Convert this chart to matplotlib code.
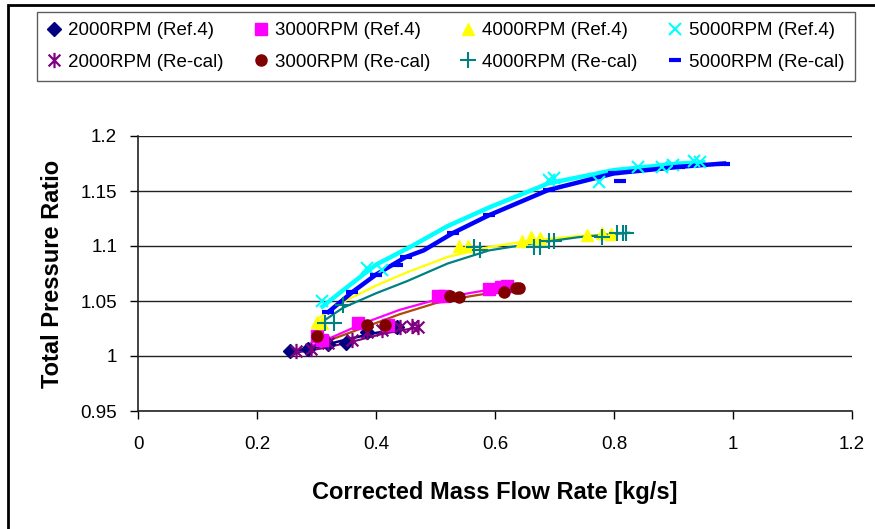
import matplotlib
matplotlib.use("Agg")
import matplotlib.pyplot as plt
from matplotlib.path import Path
from matplotlib.patches import Rectangle

plt.rcParams['font.family'] = ['Liberation Sans', 'DejaVu Sans']

# ---- data ----
r2000_x = [0.255, 0.285, 0.32, 0.35, 0.385, 0.435]
r2000_y = [1.005, 1.006, 1.011, 1.012, 1.022, 1.026]
c2000_x = [0.265, 0.29, 0.32, 0.36, 0.385, 0.41, 0.44, 0.46, 0.47]
c2000_y = [1.005, 1.006, 1.012, 1.015, 1.022, 1.024, 1.026, 1.027, 1.026]

r3000_x = [0.30, 0.31, 0.37, 0.42, 0.505, 0.515, 0.59, 0.61, 0.62]
r3000_y = [1.018, 1.015, 1.030, 1.028, 1.055, 1.055, 1.061, 1.063, 1.064]
c3000_x = [0.30, 0.385, 0.415, 0.525, 0.54, 0.615, 0.635, 0.64]
c3000_y = [1.018, 1.028, 1.028, 1.055, 1.054, 1.058, 1.062, 1.062]

r4000_x = [0.30, 0.31, 0.54, 0.555, 0.645, 0.66, 0.675, 0.755, 0.78, 0.795]
r4000_y = [1.031, 1.030, 1.100, 1.100, 1.105, 1.108, 1.107, 1.110, 1.112, 1.111]
c4000_x = [0.315, 0.33, 0.345, 0.565, 0.575, 0.665, 0.675, 0.69, 0.70, 0.78, 0.805, 0.815, 0.82]
c4000_y = [1.030, 1.030, 1.046, 1.099, 1.096, 1.099, 1.099, 1.105, 1.105, 1.108, 1.112, 1.112, 1.112]

r5000_x = [0.31, 0.385, 0.41, 0.69, 0.70, 0.775, 0.84, 0.88, 0.90, 0.935, 0.945]
r5000_y = [1.050, 1.080, 1.078, 1.160, 1.162, 1.158, 1.172, 1.172, 1.174, 1.177, 1.176]
c5000_x = [0.32, 0.36, 0.40, 0.435, 0.45, 0.53, 0.59, 0.69, 0.80, 0.81, 0.91, 0.985]
c5000_y = [1.040, 1.058, 1.074, 1.083, 1.090, 1.112, 1.128, 1.151, 1.166, 1.159, 1.172, 1.175]

# trend curves
t2000r_x = [0.255, 0.30, 0.35, 0.40, 0.44]
t2000r_y = [1.004, 1.008, 1.015, 1.021, 1.025]
t2000c_x = [0.265, 0.31, 0.36, 0.41, 0.46, 0.47]
t2000c_y = [1.003, 1.007, 1.013, 1.020, 1.025, 1.026]
t3000r_x = [0.295, 0.33, 0.38, 0.44, 0.50, 0.555, 0.61, 0.625]
t3000r_y = [1.010, 1.018, 1.030, 1.042, 1.051, 1.057, 1.062, 1.064]
t3000c_x = [0.30, 0.34, 0.39, 0.44, 0.50, 0.555, 0.60, 0.64]
t3000c_y = [1.010, 1.018, 1.028, 1.038, 1.048, 1.054, 1.058, 1.061]
t4000r_x = [0.305, 0.34, 0.40, 0.452, 0.52, 0.59, 0.66, 0.74, 0.80]
t4000r_y = [1.035, 1.048, 1.064, 1.076, 1.090, 1.099, 1.105, 1.109, 1.111]
t4000c_x = [0.315, 0.345, 0.40, 0.452, 0.52, 0.59, 0.66, 0.74, 0.825]
t4000c_y = [1.033, 1.044, 1.057, 1.068, 1.084, 1.096, 1.102, 1.108, 1.112]
t5000r_x = [0.31, 0.35, 0.40, 0.457, 0.52, 0.59, 0.69, 0.80, 0.91, 0.95]
t5000r_y = [1.045, 1.062, 1.083, 1.099, 1.118, 1.135, 1.157, 1.169, 1.175, 1.176]
t5000c_x = [0.32, 0.36, 0.40, 0.45, 0.48, 0.53, 0.59, 0.69, 0.80, 0.91, 0.985]
t5000c_y = [1.040, 1.058, 1.074, 1.090, 1.096, 1.112, 1.128, 1.151, 1.166, 1.172, 1.175]

x_ticks = [0, 0.2, 0.4, 0.6, 0.8, 1, 1.2]
x_ticklabels = ['0', '0.2', '0.4', '0.6', '0.8', '1', '1.2']
y_ticks = [0.95, 1.0, 1.05, 1.1, 1.15, 1.2]
y_ticklabels = ['0.95', '1', '1.05', '1.1', '1.15', '1.2']

W, H = 875, 529
fig = plt.figure(figsize=(W / 100, H / 100), dpi=100)
ax = fig.add_axes([138 / W, 1 - 411 / H, (852 - 138) / W, (411 - 136) / H])

# asterisk marker (x with vertical bar)
star = Path([(-1, -1), (1, 1), (-1, 1), (1, -1), (0, -1.3), (0, 1.3)],
            [Path.MOVETO, Path.LINETO, Path.MOVETO, Path.LINETO, Path.MOVETO, Path.LINETO])

# lines
ax.plot(t2000r_x, t2000r_y, color='#000080', lw=1.8, zorder=3)
ax.plot(t2000c_x, t2000c_y, color='#800080', lw=1.5, zorder=3)
ax.plot(t3000r_x, t3000r_y, color='#FF00FF', lw=1.6, zorder=3)
ax.plot(t3000c_x, t3000c_y, color='#B0480A', lw=1.6, zorder=3)
ax.plot(t4000r_x, t4000r_y, color='#FFFF00', lw=1.6, zorder=3)
ax.plot(t4000c_x, t4000c_y, color='#008080', lw=1.6, zorder=3)
ax.plot(t5000r_x, t5000r_y, color='#00FFFF', lw=3.2, zorder=3)
ax.plot(t5000c_x, t5000c_y, color='#0000FF', lw=3.2, zorder=3)

# markers
ax.plot(r2000_x, r2000_y, ls='none', marker='D', ms=7, color='#000080', label='2000RPM (Ref.4)', zorder=4)
ax.plot(c2000_x, c2000_y, ls='none', marker=star, ms=11, mew=1.6, mfc='none', color='#800080', label='2000RPM (Re-cal)', zorder=4)
ax.plot(r3000_x, r3000_y, ls='none', marker='s', ms=8, color='#FF00FF', label='3000RPM (Ref.4)', zorder=4)
ax.plot(c3000_x, c3000_y, ls='none', marker='o', ms=8, color='#800000', label='3000RPM (Re-cal)', zorder=4)
ax.plot(r4000_x, r4000_y, ls='none', marker='^', ms=9, color='#FFFF00', label='4000RPM (Ref.4)', zorder=4)
ax.plot(c4000_x, c4000_y, ls='none', marker='+', ms=11, mew=1.5, color='#008080', label='4000RPM (Re-cal)', zorder=4)
ax.plot(r5000_x, r5000_y, ls='none', marker='x', ms=9, mew=1.5, color='#00FFFF', label='5000RPM (Ref.4)', zorder=4)
ax.plot(c5000_x, c5000_y, ls='none', marker='_', ms=8, mew=3, color='#0000FF', label='5000RPM (Re-cal)', zorder=4)

ax.set_xlim(0, 1.2)
ax.set_ylim(0.95, 1.2)
ax.set_xticks(x_ticks)
ax.set_xticklabels(x_ticklabels)
ax.set_yticks(y_ticks)
ax.set_yticklabels(y_ticklabels)
ax.tick_params(direction='out', length=6, width=1, labelsize=13.5, color='black')
ax.tick_params(axis='x', pad=12)
ax.tick_params(axis='y', pad=9)
ax.grid(axis='y', color='#222222', lw=1)
ax.set_axisbelow(True)
for s in ['top', 'right']:
    ax.spines[s].set_visible(False)
for s in ['left', 'bottom']:
    ax.spines[s].set_color('#222222')
    ax.spines[s].set_linewidth(1.2)

ax.set_xlabel('Corrected Mass Flow Rate [kg/s]', fontsize=17, fontweight='bold', labelpad=20)
ax.set_ylabel('Total Pressure Ratio', fontsize=17, fontweight='bold', labelpad=12)

handles, labels = ax.get_legend_handles_labels()
leg = fig.legend(handles, labels, ncol=4, loc='upper left',
                 bbox_to_anchor=(37 / W, 1 - 90 / H, (855 - 37) / W, (90 - 12) / H),
                 mode='expand', fontsize=13.5, frameon=True, fancybox=False,
                 handlelength=0.7, handletextpad=0.4, columnspacing=0.6,
                 borderpad=0.55, labelspacing=0.75, borderaxespad=0)
leg.get_frame().set_edgecolor('#333333')
leg.get_frame().set_linewidth(1)

fig.patches.append(Rectangle((8 / W, -0.1), 1.2, 1 - 5 / H + 0.1, transform=fig.transFigure,
                             fill=False, edgecolor='black', lw=2, clip_on=False))

fig.savefig('out.png', dpi=100)
